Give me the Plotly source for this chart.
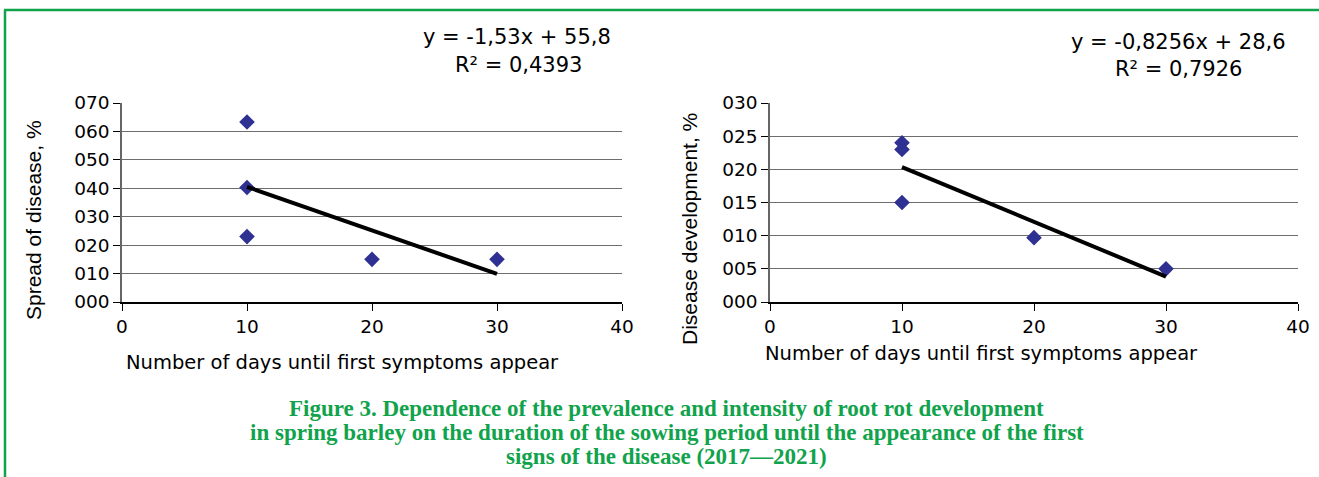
import plotly.graph_objects as go

# Data
days = [10, 10, 10, 20, 30]
spread = [63.3, 40.3, 23.0, 15.0, 15.0]
development = [24.0, 23.0, 15.0, 9.7, 5.0]
trend_x = [10, 30]
spread_slope, spread_icpt = -1.53, 55.8
dev_slope, dev_icpt = -0.8256, 28.6
spread_eq = ["y = -1,53x + 55,8", "R² = 0,4393"]
dev_eq = ["y = -0,8256x + 28,6", "R² = 0,7926"]
x_ticks = [0, 10, 20, 30, 40]
spread_ticks = [0, 10, 20, 30, 40, 50, 60, 70]
dev_ticks = [0, 5, 10, 15, 20, 25, 30]
x_title = "Number of days until first symptoms appear"
y_titles = ["Spread of disease, %", "Disease development, %"]
caption = [
    "Figure 3. Dependence of the prevalence and intensity of root rot development",
    "in spring barley on the duration of the sowing period until the appearance of the first",
    "signs of the disease (2017\u20142021)",
]

W, H = 1319, 477
GREEN = "#10A34B"
NAVY = "#2E3092"
WIDE = "DejaVu Sans, Verdana, sans-serif"
ARIAL = "Liberation Sans, Arial, sans-serif"

def px(x):
    return x / W

def py(y):
    return 1 - y / H

fig = go.Figure()

fig.add_trace(go.Scatter(x=days, y=spread, mode="markers",
                         marker=dict(symbol="diamond", size=12, color=NAVY),
                         xaxis="x", yaxis="y", showlegend=False))
fig.add_trace(go.Scatter(x=trend_x, y=[spread_slope * v + spread_icpt for v in trend_x],
                         mode="lines", line=dict(color="black", width=4),
                         xaxis="x", yaxis="y", showlegend=False))
fig.add_trace(go.Scatter(x=days, y=development, mode="markers",
                         marker=dict(symbol="diamond", size=12, color=NAVY),
                         xaxis="x2", yaxis="y2", showlegend=False))
fig.add_trace(go.Scatter(x=trend_x, y=[dev_slope * v + dev_icpt for v in trend_x],
                         mode="lines", line=dict(color="black", width=4),
                         xaxis="x2", yaxis="y2", showlegend=False))

tickfont = dict(family=WIDE, size=18.5, color="black")
xcommon = dict(range=[0, 40], tickvals=x_ticks, showgrid=False, zeroline=False,
               showline=True, linecolor="black", linewidth=1.5, automargin=False,
               ticks="outside", ticklen=7, tickcolor="black", tickwidth=1.2, tickfont=tickfont)
ycommon = dict(showgrid=True, gridcolor="#6e6e6e", gridwidth=1.3, zeroline=False,
               showline=True, linecolor="#666666", linewidth=1.5, automargin=False,
               ticks="outside", ticklen=7, tickcolor="black", tickwidth=1.2, tickfont=tickfont,
               tickformat="03d")

ydom = [py(302), py(103)]
fig.update_layout(
    width=W, height=H,
    margin=dict(l=0, r=0, t=0, b=0),
    paper_bgcolor="white", plot_bgcolor="white",
    xaxis=dict(domain=[px(122), px(622)], anchor="y", **xcommon),
    yaxis=dict(domain=ydom, anchor="x", range=[0, 70], tickvals=spread_ticks, **ycommon),
    xaxis2=dict(domain=[px(770), px(1298)], anchor="y2", **xcommon),
    yaxis2=dict(domain=ydom, anchor="x2", range=[0, 30], tickvals=dev_ticks, **ycommon),
)

anns = []
eqfont = dict(family=WIDE, size=21, color="black")
xtfont = dict(family=WIDE, size=19.5, color="black")
ytfont = dict(family=ARIAL, size=21, color="black")
anns.append(dict(x=px(517), y=py(37), text=spread_eq[0], font=eqfont))
anns.append(dict(x=px(518), y=py(65), text=spread_eq[1], font=eqfont))
anns.append(dict(x=px(1178), y=py(42), text=dev_eq[0], font=eqfont))
anns.append(dict(x=px(1178), y=py(69), text=dev_eq[1], font=eqfont))
anns.append(dict(x=px(342), y=py(362), text=x_title, font=xtfont))
anns.append(dict(x=px(982), y=py(353), text=x_title, font=xtfont))
anns.append(dict(x=px(33), y=py(220), text=y_titles[0], font=ytfont, textangle=-90))
anns.append(dict(x=px(689), y=py(229), text=y_titles[1], font=ytfont, textangle=-90))
capfont = dict(family="Liberation Serif, Times New Roman, serif", size=23, color=GREEN)
for i, line in enumerate(caption):
    anns.append(dict(x=px(667), y=py(408 + 24 * i), text="<b>" + line + "</b>", font=capfont))
for a in anns:
    a.update(xref="paper", yref="paper", showarrow=False, xanchor="center", yanchor="middle")
fig.update_layout(annotations=anns)

fig.add_shape(type="line", xref="paper", yref="paper", x0=px(5), x1=px(5), y0=0, y1=py(10),
              line=dict(color=GREEN, width=2.5))
fig.add_shape(type="line", xref="paper", yref="paper", x0=px(4), x1=1, y0=py(10), y1=py(10),
              line=dict(color=GREEN, width=2.5))

fig.write_html("out.html", config={"displayModeBar": False},
               post_script="document.body.style.margin='0';document.body.style.overflow='hidden';")
